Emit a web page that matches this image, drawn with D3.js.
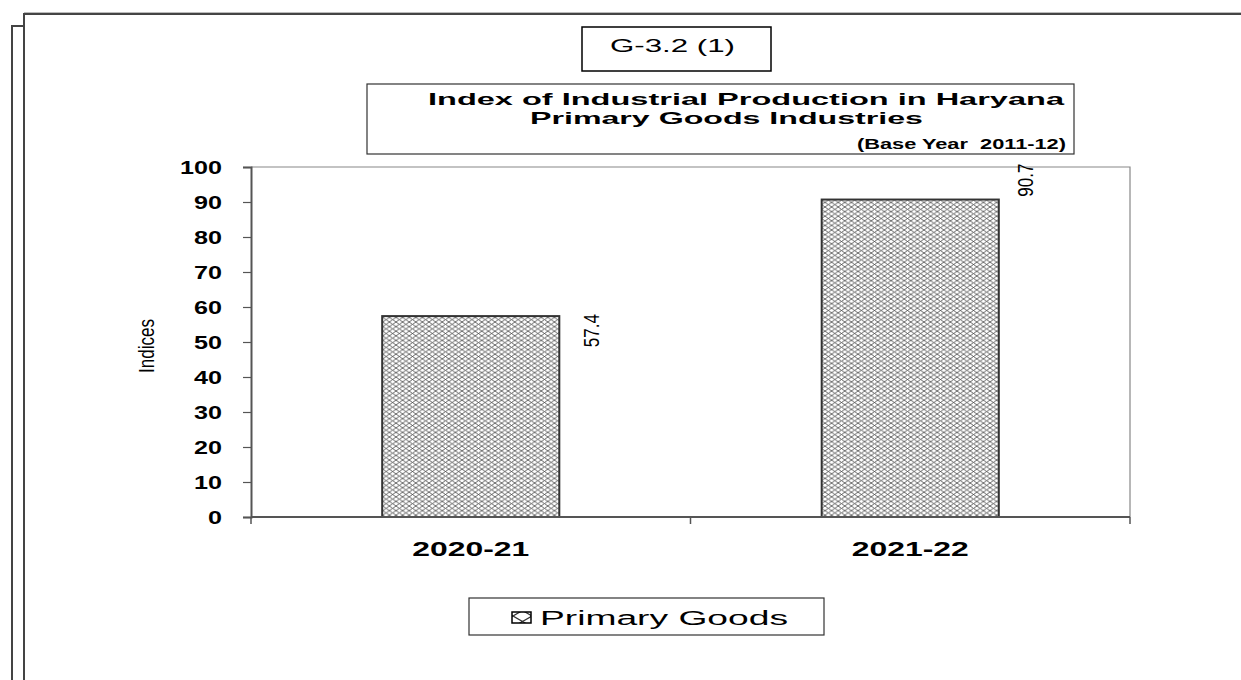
<!DOCTYPE html>
<html><head><meta charset="utf-8">
<script src="https://cdn.jsdelivr.net/npm/d3@7"></script>
<style>html,body{margin:0;padding:0;background:#fff;}svg{display:block;}</style>
</head><body>
<script>
const categories = ["2020-21", "2021-22"];
const values = [57.4, 90.7];
const yTicks = [0, 10, 20, 30, 40, 50, 60, 70, 80, 90, 100];
const seriesName = "Primary Goods";
const chartCode = "G-3.2 (1)";
const titleLines = ["Index of Industrial Production in Haryana", "Primary Goods Industries", "(Base Year  2011-12)"];
const yAxisTitle = "Indices";

const W = 1241, H = 680;
const svg = d3.select("body").append("svg").attr("width", W).attr("height", H);
const FONT = "'Liberation Sans', Arial, sans-serif";

const defs = svg.append("defs");
function hatch(id, w, h, sw, col) {
  const p = defs.append("pattern").attr("id", id).attr("patternUnits", "userSpaceOnUse")
    .attr("width", w).attr("height", h);
  p.append("rect").attr("width", w).attr("height", h).attr("fill", "#fff");
  p.append("path").attr("d", `M0,0L${w},${h}M0,${h}L${w},0M${-w},0L0,${h}M${w},${h}L${2*w},0`)
    .attr("stroke", col).attr("stroke-width", sw).attr("fill", "none");
  return p;
}
hatch("xh", 6.6, 4.6, 0.9, "#555");
hatch("xhl", 19, 11, 1.2, "#333");

// page frame
const frame = svg.append("g").attr("stroke", "#444").attr("stroke-width", 2).attr("fill", "none");
frame.append("path").attr("d", "M24,680V14H1241");
frame.append("path").attr("d", "M12,680V26H24");
svg.append("line").attr("x1", 24).attr("x2", 1241).attr("y1", 12.5).attr("y2", 12.5).attr("stroke", "#bbb").attr("stroke-width", 1);

// scales
const x = d3.scaleBand().domain(categories).range([251, 1130]).padding(0);
const y = d3.scaleLinear().domain([0, 100]).range([517, 167]);

// plot area border (top & right)
svg.append("path").attr("d", `M251,${y(100)}H1130V${y(0)}`).attr("stroke", "#888").attr("stroke-width", 1.2).attr("fill", "none");

// bars
const barW = x.bandwidth() * 0.403;
svg.selectAll("rect.bar").data(values).enter().append("rect").attr("class", "bar")
  .attr("x", (d, i) => x(categories[i]) + x.bandwidth() / 2 - barW / 2)
  .attr("y", d => y(d))
  .attr("width", barW)
  .attr("height", d => y(0) - y(d))
  .attr("fill", "url(#xh)")
  .attr("stroke", "#333").attr("stroke-width", 2);

// value labels (rotated)
const labOff = [{dx: 33, dy: 2}, {dx: 27, dy: 36}];
values.forEach((v, i) => {
  const cx = x(categories[i]) + x.bandwidth() / 2 + barW / 2 + labOff[i].dx;
  const ty = y(v) - labOff[i].dy;
  svg.append("text").attr("transform", `translate(${cx + 7},${ty}) scale(1.35,1) rotate(-90)`)
    .attr("text-anchor", "end").attr("font-family", FONT).attr("font-size", 17).attr("fill", "#000")
    .text(v.toFixed(1));
});

// y axis
const yAxis = d3.axisLeft(y).tickValues(yTicks).tickSize(8).tickFormat("");
const gy = svg.append("g").attr("transform", "translate(251,0)").call(yAxis);
gy.select(".domain").attr("stroke", "#555").attr("stroke-width", 2);
gy.selectAll(".tick line").attr("stroke", "#555").attr("stroke-width", 1.2);
yTicks.forEach(t => {
  const s = String(t);
  svg.append("text").attr("x", 222).attr("y", y(t) + 6.5).attr("text-anchor", "end")
    .attr("font-family", FONT).attr("font-weight", "bold").attr("font-size", 18)
    .attr("textLength", 14 * s.length).attr("lengthAdjust", "spacingAndGlyphs").text(s);
});

// x axis
const gx = svg.append("g").attr("transform", `translate(0,${y(0)})`);
gx.append("line").attr("x1", 251).attr("x2", 1130).attr("stroke", "#555").attr("stroke-width", 2);
const bounds = categories.map(c => x(c)).concat([x(categories[categories.length - 1]) + x.bandwidth()]);
gx.selectAll("line.t").data(bounds).enter().append("line").attr("class", "t")
  .attr("x1", d => d).attr("x2", d => d).attr("y1", 0).attr("y2", 7).attr("stroke", "#555").attr("stroke-width", 1.5);
categories.forEach(c => {
  svg.append("text").attr("x", x(c) + x.bandwidth() / 2).attr("y", 556).attr("text-anchor", "middle")
    .attr("font-family", FONT).attr("font-weight", "bold").attr("font-size", 20)
    .attr("textLength", 117).attr("lengthAdjust", "spacingAndGlyphs").text(c);
});

// y axis title
svg.append("text").attr("transform", "translate(154,346) scale(1.3,1) rotate(-90)")
  .attr("text-anchor", "middle").attr("font-family", FONT).attr("font-size", 17).text(yAxisTitle);

// chart code box
svg.append("rect").attr("x", 582).attr("y", 27).attr("width", 189).attr("height", 44)
  .attr("fill", "#fff").attr("stroke", "#000").attr("stroke-width", 1.5);
svg.append("text").attr("x", 610).attr("y", 52).attr("font-family", FONT).attr("font-size", 19)
  .attr("textLength", 125).attr("lengthAdjust", "spacingAndGlyphs").text(chartCode);

// title box
svg.append("rect").attr("x", 367).attr("y", 84).attr("width", 707).attr("height", 70)
  .attr("fill", "#fff").attr("stroke", "#333").attr("stroke-width", 1.2);
svg.append("text").attr("x", 428).attr("y", 105).attr("font-family", FONT).attr("font-weight", "bold").attr("font-size", 17)
  .attr("textLength", 636).attr("lengthAdjust", "spacingAndGlyphs").text(titleLines[0]);
svg.append("text").attr("x", 530).attr("y", 124).attr("font-family", FONT).attr("font-weight", "bold").attr("font-size", 17)
  .attr("textLength", 393).attr("lengthAdjust", "spacingAndGlyphs").text(titleLines[1]);
svg.append("text").attr("x", 857).attr("y", 149).attr("font-family", FONT).attr("font-weight", "bold").attr("font-size", 15)
  .attr("textLength", 209).attr("lengthAdjust", "spacingAndGlyphs").attr("xml:space", "preserve").text(titleLines[2]);

// legend
svg.append("rect").attr("x", 469).attr("y", 598).attr("width", 355).attr("height", 37)
  .attr("fill", "#fff").attr("stroke", "#333").attr("stroke-width", 1.2);
svg.append("rect").attr("x", 512).attr("y", 612).attr("width", 19).attr("height", 11)
  .attr("fill", "url(#xhl)").attr("stroke", "#000").attr("stroke-width", 1.5);
svg.append("text").attr("x", 540).attr("y", 625).attr("font-family", FONT).attr("font-size", 20)
  .attr("textLength", 248).attr("lengthAdjust", "spacingAndGlyphs").text(seriesName);
</script>
</body></html>
